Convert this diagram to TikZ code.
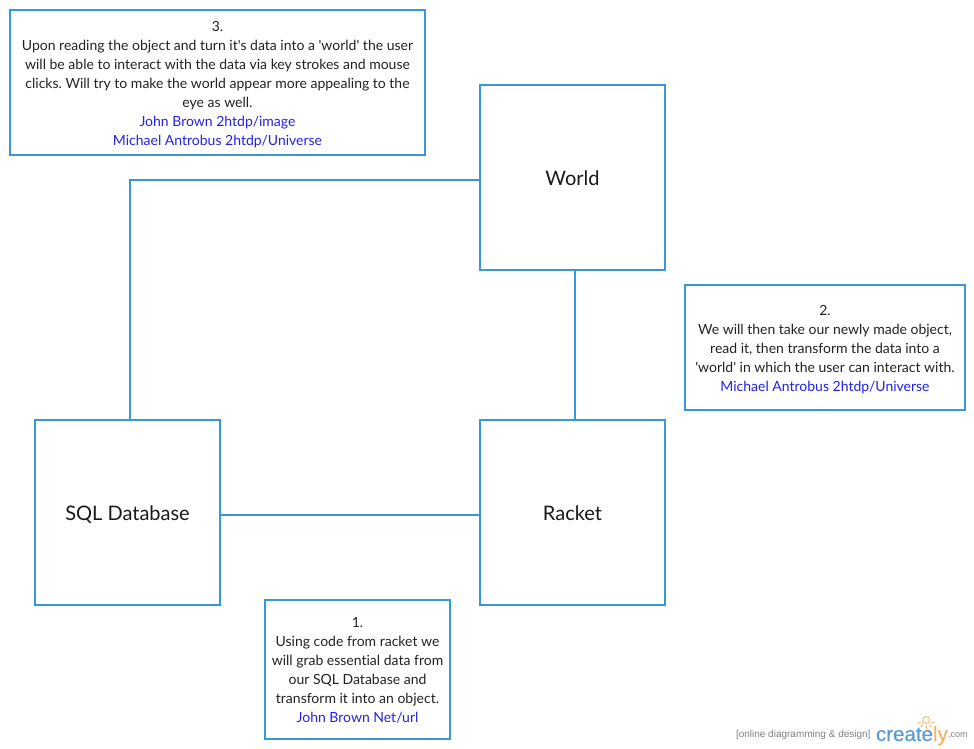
\documentclass[tikz,border=0pt]{standalone}
\usepackage{fontspec}
\setmainfont{Lato}[Ligatures={TeXOff,CommonOff}]
\newfontfamily\logofont{Liberation Sans}[FakeBold=0.4]
\newfontfamily\tagfont{Liberation Sans}
\usepackage{xcolor}
\usetikzlibrary{calc, positioning}

\definecolor{lineblue}{HTML}{3498DB}
\definecolor{linkblue}{HTML}{2222EE}
\definecolor{textgrey}{HTML}{222222}
\definecolor{logoblue}{HTML}{5B9BD5}
\definecolor{logoorange}{HTML}{F5B266}

\tikzset{
    bigbox/.style={draw=lineblue, line width=2pt, minimum width=185pt, minimum height=185pt, inner sep=0pt, outer sep=0pt, font=\fontsize{20}{24}\selectfont, text=black!90},
    notebox/.style={draw=lineblue, line width=2pt, inner sep=0pt, outer sep=0pt, font=\frenchspacing\fontsize{14}{19}\selectfont, text=textgrey},
    wire/.style={draw=lineblue, line width=2pt},
    logotext/.style={inner sep=0pt, outer sep=0pt, anchor=base west}
}
\newcommand{\linktext}[1]{\textcolor{linkblue}{#1}}
\newcommand{\lowered}[2]{\raisebox{#1}[\height][\depth]{#2}}
\newcommand{\notelines}[2]{\lowered{#1}{\begin{tabular}{@{}c@{}}#2\end{tabular}}}

\begin{document}
\begin{tikzpicture}[x=1pt, y=-1pt]
    \useasboundingbox (0, 0) rectangle (974, 749);

    \node[bigbox] (world) at (572.5, 177.5) {\lowered{-0.5pt}{World}};
    \node[bigbox] (racket) at (572.5, 512.5) {\lowered{-0.5pt}{Racket}};
    \node[bigbox] (sql) at (127.5, 512.5) {\lowered{-2pt}{SQL Database}};

    \node[notebox, minimum width=415pt, minimum height=145pt] (note3) at (217.5, 82.5) {\notelines{-2pt}{3.\\
        Upon reading the object and turn it's data into a 'world' the user\\
        will be able to interact with the data via key strokes and mouse\\
        clicks. Will try to make the world appear more appealing to the\\
        eye as well.\\
        \linktext{John Brown 2htdp/image}\\
        \linktext{Michael Antrobus 2htdp/Universe}}};
    \node[notebox, minimum width=280pt, minimum height=125pt] (note2) at (825, 347.5) {\notelines{-2pt}{2.\\
        We will then take our newly made object,\\
        read it, then transform the data into a\\
        'world' in which the user can interact with.\\
        \linktext{Michael Antrobus 2htdp/Universe}}};
    \node[notebox, minimum width=185pt, minimum height=139pt] (note1) at (357.5, 669.5) {\notelines{-1.5pt}{1.\\
        Using code from racket we\\
        will grab essential data from\\
        our SQL Database and\\
        transform it into an object.\\
        \linktext{John Brown Net/url}}};

    \draw[wire] ([yshift=-2.5pt]world.west) -| ([xshift=2.5pt]sql.north);
    \draw[wire] ([xshift=2.5pt]world.south) -- ([xshift=2.5pt]racket.north);
    \draw[wire] ([yshift=-2.5pt]sql.east) -- ([yshift=-2.5pt]racket.west);

    % logo
    \node[logotext, text=black!50, font=\tagfont\fontsize{10}{10}\selectfont] (logotag) at (736, 737) {[online diagramming \& design]};
    \node[logotext, text=logoblue, font=\logofont\fontsize{20.5}{20.5}\selectfont] (logoname) at (876, 741) {create\textcolor{logoorange}{ly}};
    \node[logotext, text=black!50, font=\tagfont\fontsize{9}{9}\selectfont] (logocom) at (948, 737) {.com};
    \coordinate (bulb) at (926, 720);
    \draw[logoorange, line width=0.8pt] (bulb) circle (3.5pt);
    \foreach \a in {-160, -125, -90, -55, -20}
        \draw[logoorange, line width=0.8pt] ($(bulb)+(\a:5.5pt)$) -- ($(bulb)+(\a:9pt)$);
\end{tikzpicture}
\end{document}
